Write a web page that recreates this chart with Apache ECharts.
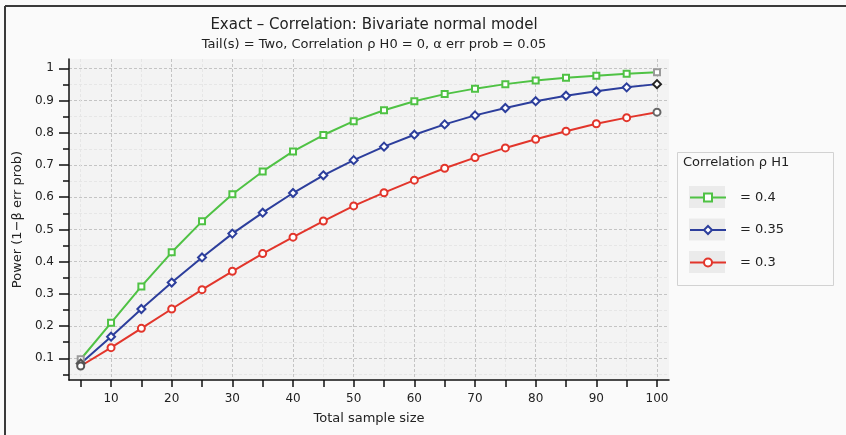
<!DOCTYPE html>
<html>
<head>
<meta charset="utf-8">
<script src="https://cdn.jsdelivr.net/npm/echarts@6/dist/echarts.min.js"></script>
<style>
  html, body { margin: 0; padding: 0; background: #fafafa; }
  #chart { width: 846px; height: 435px; }
</style>
</head>
<body>
<div id="chart"></div>
<script>
// total sample size
const sampleSizes = [5, 10, 15, 20, 25, 30, 35, 40, 45, 50, 55, 60, 65, 70, 75, 80, 85, 90, 95, 100]
// power for each rho H1
const power04 = [0.097, 0.210, 0.323, 0.429, 0.525, 0.609, 0.680, 0.742, 0.793, 0.836,
  0.870, 0.898, 0.920, 0.937, 0.951, 0.962, 0.971, 0.977, 0.983, 0.988]
const power035 = [0.084, 0.167, 0.253, 0.335, 0.413, 0.487, 0.552, 0.613, 0.668, 0.715,
  0.757, 0.794, 0.826, 0.854, 0.877, 0.898, 0.915, 0.929, 0.941, 0.951]
const power03 = [0.076, 0.133, 0.193, 0.253, 0.313, 0.370, 0.425, 0.476, 0.526, 0.573,
  0.614, 0.653, 0.690, 0.723, 0.753, 0.780, 0.805, 0.828, 0.847, 0.864]
const seriesNames = ['= 0.4', '= 0.35', '= 0.3']

// tick labels
const xMajorTicks = [10, 20, 30, 40, 50, 60, 70, 80, 90, 100]
const xAllTicks = [5, 10, 15, 20, 25, 30, 35, 40, 45, 50, 55, 60, 65, 70, 75, 80, 85, 90, 95, 100]
const yMajorTicks = [0.1, 0.2, 0.3, 0.4, 0.5, 0.6, 0.7, 0.8, 0.9, 1]
const yAllTicks = [0.05, 0.1, 0.15, 0.2, 0.25, 0.3, 0.35, 0.4, 0.45, 0.5, 0.55, 0.6,
  0.65, 0.7, 0.75, 0.8, 0.85, 0.9, 0.95, 1]

const fontFamily = 'DejaVu Sans'
const textColor = '#222222'
const axisColor = '#111111'
const minorGrid = '#e6e6e6'
const majorGrid = '#c4c4c4'

const xMin = 3.07
const xMax = 101.98
const yMin = 0.0326
const yMax = 1.029

// first / last points are drawn grey in the original
function toData(values, firstColor, lastColor) {
  return values.map((v, i) => {
    const item = { value: [sampleSizes[i], v] }
    if (i === 0) item.itemStyle = { color: firstColor, borderColor: firstColor }
    if (i === values.length - 1) item.itemStyle = { color: lastColor, borderColor: lastColor }
    return item
  })
}

function makeSeries(name, values, color, symbol, size, firstColor, lastColor) {
  return {
    name: name,
    type: 'line',
    data: toData(values, firstColor, lastColor),
    symbol: symbol,
    symbolSize: size,
    showAllSymbol: true,
    color: color,
    lineStyle: { color: color, width: 2 },
    itemStyle: { color: color, borderWidth: 1.6 },
    emphasis: { disabled: true },
    animation: false,
    z: 3
  }
}

const chart = echarts.init(document.getElementById('chart'), null, { renderer: 'canvas' })

const xAxisBase = {
  type: 'value',
  gridIndex: 0,
  min: xMin,
  max: xMax,
  position: 'bottom'
}
const yAxisBase = {
  type: 'value',
  gridIndex: 0,
  min: yMin,
  max: yMax,
  position: 'left'
}

chart.setOption({
  backgroundColor: '#fafafa',
  animation: false,
  title: [
    {
      text: 'Exact – Correlation: Bivariate normal model',
      left: 369,
      top: 13,
      textAlign: 'center',
      textStyle: { fontFamily: fontFamily, fontSize: 15, fontWeight: 'normal', color: textColor }
    },
    {
      text: 'Tail(s) = Two, Correlation ρ H0 = 0, α err prob = 0.05',
      left: 369,
      top: 33,
      textAlign: 'center',
      textStyle: { fontFamily: fontFamily, fontSize: 13, fontWeight: 'normal', color: textColor }
    }
  ],
  grid: {
    left: 69,
    right: 177,
    top: 59,
    bottom: 55,
    show: true,
    backgroundColor: '#f3f3f3',
    borderWidth: 0
  },
  xAxis: [
    Object.assign({}, xAxisBase, {
      name: 'Total sample size',
      nameLocation: 'middle',
      nameGap: 32,
      nameTextStyle: { fontFamily: fontFamily, fontSize: 13, color: textColor },
      axisLine: { show: true, onZero: false, lineStyle: { color: axisColor, width: 1.5 } },
      axisTick: { show: true, inside: false, length: 7, customValues: xAllTicks,
        lineStyle: { color: axisColor, width: 1.5 } },
      axisLabel: { show: true, customValues: xMajorTicks, margin: 13,
        fontFamily: fontFamily, fontSize: 12, color: textColor },
      splitLine: { show: true, lineStyle: { color: minorGrid, type: [3, 2], width: 1 } }
    }),
    Object.assign({}, xAxisBase, {
      axisLine: { show: false },
      axisTick: { show: false, customValues: xMajorTicks },
      axisLabel: { show: false },
      splitLine: { show: true, lineStyle: { color: majorGrid, type: [3, 2], width: 1 } }
    })
  ],
  yAxis: [
    Object.assign({}, yAxisBase, {
      name: 'Power (1−β err prob)',
      nameLocation: 'middle',
      nameGap: 38,
      nameTextStyle: { fontFamily: fontFamily, fontSize: 13, color: textColor },
      axisLine: { show: true, onZero: false, lineStyle: { color: axisColor, width: 1.5 } },
      axisTick: { show: true, inside: false, length: 6, customValues: yAllTicks,
        lineStyle: { color: axisColor, width: 1.5 } },
      axisLabel: { show: true, customValues: yMajorTicks, margin: 15,
        fontFamily: fontFamily, fontSize: 12, color: textColor,
        formatter: v => String(+v.toFixed(2)) },
      splitLine: { show: true, lineStyle: { color: minorGrid, type: [3, 2], width: 1 } }
    }),
    Object.assign({}, yAxisBase, {
      axisLine: { show: false },
      axisTick: { show: true, inside: false, length: 10, customValues: yMajorTicks,
        lineStyle: { color: axisColor, width: 1.5 } },
      axisLabel: { show: false },
      splitLine: { show: true, lineStyle: { color: majorGrid, type: [3, 2], width: 1 } }
    })
  ],
  legend: {
    orient: 'vertical',
    left: 689,
    top: 191,
    itemWidth: 36,
    itemHeight: 10,
    itemGap: 19.5,
    padding: 0,
    selectedMode: false,
    data: seriesNames,
    textStyle: { fontFamily: fontFamily, fontSize: 13, color: textColor, padding: [0, 0, 0, 9] }
  },
  graphic: [
    // outer frame
    { type: 'line', shape: { x1: 5, y1: 6, x2: 846, y2: 6 }, style: { stroke: '#3a3a3a', lineWidth: 2 }, silent: true },
    { type: 'line', shape: { x1: 5, y1: 6, x2: 5, y2: 435 }, style: { stroke: '#3a3a3a', lineWidth: 2 }, silent: true },
    // legend box
    { type: 'rect', shape: { x: 677.5, y: 152.5, width: 156, height: 133 },
      style: { fill: '#fafafa', stroke: '#d2d2d2', lineWidth: 1 }, silent: true, z: 1 },
    { type: 'text', x: 683, y: 163, z: 2,
      style: { text: 'Correlation ρ H1', fill: textColor, fontFamily: fontFamily, fontSize: 13,
        verticalAlign: 'middle' }, silent: true },
    { type: 'rect', shape: { x: 689, y: 186, width: 36, height: 22 }, style: { fill: '#ebebeb' }, silent: true, z: 2 },
    { type: 'rect', shape: { x: 689, y: 218.5, width: 36, height: 22 }, style: { fill: '#ebebeb' }, silent: true, z: 2 },
    { type: 'rect', shape: { x: 689, y: 251, width: 36, height: 22 }, style: { fill: '#ebebeb' }, silent: true, z: 2 }
  ],
  series: [
    makeSeries(seriesNames[0], power04, '#4fc244', 'emptyRect', 6, '#9a9a9a', '#9a9a9a'),
    makeSeries(seriesNames[1], power035, '#2c3e9c', 'emptyDiamond', 8, '#555555', '#222222'),
    makeSeries(seriesNames[2], power03, '#e2352b', 'emptyCircle', 7, '#555555', '#666666')
  ]
})
</script>
</body>
</html>
